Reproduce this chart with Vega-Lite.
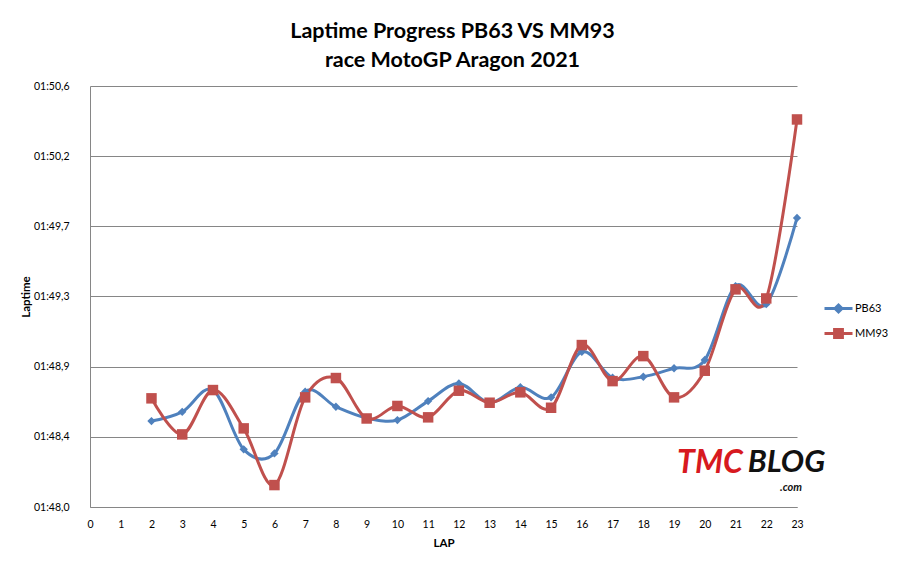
{
  "$schema": "https://vega.github.io/schema/vega-lite/v6.json",
  "width": 707,
  "height": 421,
  "autosize": {"type": "none"},
  "padding": {"left": 90, "top": 86, "right": 108, "bottom": 64},
  "background": "white",
  "title": {
    "text": ["Laptime Progress PB63 VS MM93", "race MotoGP Aragon 2021"],
    "font": "Lato",
    "fontSize": 21.5,
    "fontWeight": "bold",
    "color": "#000000",
    "lineHeight": 29,
    "anchor": "middle",
    "dx": 9,
    "offset": 10
  },
  "data": {
    "values": [
      {"lap": 2, "rider": "PB63", "time": 108.529},
      {"lap": 3, "rider": "PB63", "time": 108.586},
      {"lap": 4, "rider": "PB63", "time": 108.72},
      {"lap": 5, "rider": "PB63", "time": 108.355},
      {"lap": 6, "rider": "PB63", "time": 108.33},
      {"lap": 7, "rider": "PB63", "time": 108.71},
      {"lap": 8, "rider": "PB63", "time": 108.617},
      {"lap": 9, "rider": "PB63", "time": 108.548},
      {"lap": 10, "rider": "PB63", "time": 108.535},
      {"lap": 11, "rider": "PB63", "time": 108.652},
      {"lap": 12, "rider": "PB63", "time": 108.761},
      {"lap": 13, "rider": "PB63", "time": 108.642},
      {"lap": 14, "rider": "PB63", "time": 108.737},
      {"lap": 15, "rider": "PB63", "time": 108.675},
      {"lap": 16, "rider": "PB63", "time": 108.956},
      {"lap": 17, "rider": "PB63", "time": 108.796},
      {"lap": 18, "rider": "PB63", "time": 108.802},
      {"lap": 19, "rider": "PB63", "time": 108.854},
      {"lap": 20, "rider": "PB63", "time": 108.905},
      {"lap": 21, "rider": "PB63", "time": 109.36},
      {"lap": 22, "rider": "PB63", "time": 109.249},
      {"lap": 23, "rider": "PB63", "time": 109.78},
      {"lap": 2, "rider": "MM93", "time": 108.669},
      {"lap": 3, "rider": "MM93", "time": 108.447},
      {"lap": 4, "rider": "MM93", "time": 108.72},
      {"lap": 5, "rider": "MM93", "time": 108.484},
      {"lap": 6, "rider": "MM93", "time": 108.135},
      {"lap": 7, "rider": "MM93", "time": 108.675},
      {"lap": 8, "rider": "MM93", "time": 108.794},
      {"lap": 9, "rider": "MM93", "time": 108.545},
      {"lap": 10, "rider": "MM93", "time": 108.622},
      {"lap": 11, "rider": "MM93", "time": 108.552},
      {"lap": 12, "rider": "MM93", "time": 108.716},
      {"lap": 13, "rider": "MM93", "time": 108.642},
      {"lap": 14, "rider": "MM93", "time": 108.706},
      {"lap": 15, "rider": "MM93", "time": 108.611},
      {"lap": 16, "rider": "MM93", "time": 108.997},
      {"lap": 17, "rider": "MM93", "time": 108.775},
      {"lap": 18, "rider": "MM93", "time": 108.929},
      {"lap": 19, "rider": "MM93", "time": 108.675},
      {"lap": 20, "rider": "MM93", "time": 108.839},
      {"lap": 21, "rider": "MM93", "time": 109.34},
      {"lap": 22, "rider": "MM93", "time": 109.284},
      {"lap": 23, "rider": "MM93", "time": 110.386}
    ]
  },
  "layer": [
    {
      "mark": {"type": "line", "interpolate": "cardinal", "strokeWidth": 3},
      "encoding": {
        "x": {
          "field": "lap",
          "type": "quantitative",
          "title": "LAP",
          "scale": {"domain": [0, 23], "nice": false, "zero": false},
          "axis": {
            "values": [0, 1, 2, 3, 4, 5, 6, 7, 8, 9, 10, 11, 12, 13, 14, 15, 16, 17, 18, 19, 20, 21, 22, 23],
            "format": "d",
            "grid": false,
            "ticks": false,
            "labelFlush": false,
            "labelOverlap": false,
            "labelPadding": 12,
            "titlePadding": 8
          }
        },
        "y": {
          "field": "time",
          "type": "quantitative",
          "title": "Laptime",
          "scale": {"domain": [108, 110.592], "nice": false, "zero": false},
          "axis": {
            "values": [108, 108.432, 108.864, 109.296, 109.728, 110.16, 110.592],
            "labelExpr": "'01:' + replace(format(datum.value - 60, '.1f'), '.', ',')",
            "grid": true,
            "ticks": false,
            "labelFlush": false,
            "labelOverlap": false,
            "labelPadding": 21,
            "titlePadding": 2
          }
        },
        "color": {
          "field": "rider",
          "type": "nominal",
          "scale": {"domain": ["PB63", "MM93"], "range": ["#4F81BD", "#C0504D"]},
          "legend": {
            "title": null,
            "orient": "none",
            "legendX": 733,
            "legendY": 207,
            "padding": 0,
            "symbolSize": 784,
            "symbolStrokeWidth": 3,
            "labelOffset": 1,
            "rowPadding": -3,
            "labelFont": "Lato",
            "labelFontSize": 11,
            "labelColor": "#000000",
            "encode": {
              "symbols": {
                "update": {
                  "shape": {"signal": "datum.value === 'PB63' ? 'M-1,0L1,0M0,-0.25L0.25,0L0,0.25L-0.25,0Z' : 'M-1,0L1,0M-0.28,-0.28L0.28,-0.28L0.28,0.28L-0.28,0.28Z'"},
                  "fill": {"signal": "datum.value === 'PB63' ? '#4F81BD' : '#C0504D'"},
                  "stroke": {"signal": "datum.value === 'PB63' ? '#4F81BD' : '#C0504D'"},
                  "opacity": {"value": 1}
                }
              }
            }
          }
        }
      }
    },
    {
      "transform": [{"filter": "datum.rider === 'PB63'"}],
      "mark": {"type": "point", "filled": true, "opacity": 1, "shape": "diamond", "size": 70, "color": "#4F81BD"},
      "encoding": {
        "x": {"field": "lap", "type": "quantitative", "axis": {"values": [0, 1, 2, 3, 4, 5, 6, 7, 8, 9, 10, 11, 12, 13, 14, 15, 16, 17, 18, 19, 20, 21, 22, 23]}},
        "y": {"field": "time", "type": "quantitative"}
      }
    },
    {
      "transform": [{"filter": "datum.rider === 'MM93'"}],
      "mark": {"type": "point", "filled": true, "opacity": 1, "shape": "square", "size": 110, "color": "#C0504D"},
      "encoding": {
        "x": {"field": "lap", "type": "quantitative", "axis": {"values": [0, 1, 2, 3, 4, 5, 6, 7, 8, 9, 10, 11, 12, 13, 14, 15, 16, 17, 18, 19, 20, 21, 22, 23]}},
        "y": {"field": "time", "type": "quantitative"}
      }
    },
    {
      "data": {"values": [{"part": "TMC"}]},
      "mark": {"type": "text", "align": "left", "baseline": "middle", "font": "Lato", "fontSize": 32, "fontWeight": "bold", "fontStyle": "italic", "fill": "#D71920"},
      "encoding": {
        "x": {"datum": 19.1, "type": "quantitative", "axis": {"values": [0, 1, 2, 3, 4, 5, 6, 7, 8, 9, 10, 11, 12, 13, 14, 15, 16, 17, 18, 19, 20, 21, 22, 23]}},
        "y": {"datum": 108.27, "type": "quantitative"},
        "text": {"field": "part", "type": "nominal"}
      }
    },
    {
      "data": {"values": [{"part": "BLOG"}]},
      "mark": {"type": "text", "align": "left", "baseline": "middle", "font": "Lato", "fontSize": 31, "fontWeight": "bold", "fontStyle": "italic", "fill": "#111111"},
      "encoding": {
        "x": {"datum": 21.4, "type": "quantitative", "axis": {"values": [0, 1, 2, 3, 4, 5, 6, 7, 8, 9, 10, 11, 12, 13, 14, 15, 16, 17, 18, 19, 20, 21, 22, 23]}},
        "y": {"datum": 108.27, "type": "quantitative"},
        "text": {"field": "part", "type": "nominal"}
      }
    },
    {
      "data": {"values": [{"part": ".com"}]},
      "mark": {"type": "text", "align": "left", "baseline": "middle", "font": "Lato", "fontSize": 11, "fontWeight": "bold", "fontStyle": "italic", "fill": "#111111"},
      "encoding": {
        "x": {"datum": 22.45, "type": "quantitative", "axis": {"values": [0, 1, 2, 3, 4, 5, 6, 7, 8, 9, 10, 11, 12, 13, 14, 15, 16, 17, 18, 19, 20, 21, 22, 23]}},
        "y": {"datum": 108.12, "type": "quantitative"},
        "text": {"field": "part", "type": "nominal"}
      }
    }
  ],
  "config": {
    "font": "Lato",
    "view": {"stroke": null},
    "axis": {
      "labelFont": "Lato",
      "labelFontSize": 10.5,
      "labelColor": "#000000",
      "labelOverlap": false,
      "labelFlush": false,
      "titleFont": "Lato",
      "titleFontSize": 11.5,
      "titleFontWeight": "bold",
      "titleColor": "#000000",
      "domainColor": "#868686",
      "domainWidth": 1,
      "gridColor": "#868686",
      "gridWidth": 1
    }
  }
}
